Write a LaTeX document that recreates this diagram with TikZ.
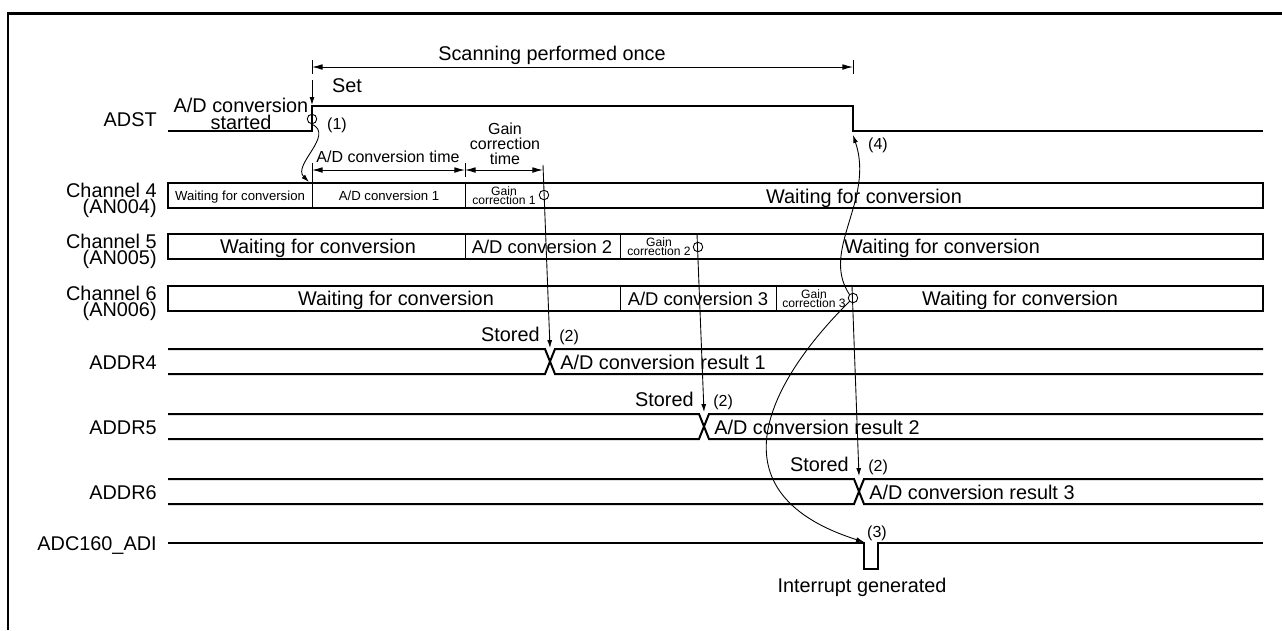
\documentclass[tikz,border=0pt]{standalone}
\usepackage{fontspec}
\setmainfont{Liberation Sans}
\usetikzlibrary{arrows.meta, positioning}
\newcommand\txtL{\fontsize{11.3}{9.4}\selectfont\lineskiplimit=-\maxdimen}
\newcommand\txtC{\fontsize{11.3}{9}\selectfont\lineskiplimit=-\maxdimen}
\newcommand\txtA{\fontsize{10.5}{9}\selectfont}
\newcommand\txtM{\fontsize{9.1}{8.5}\selectfont\lineskiplimit=-\maxdimen}
\newcommand\txtS{\fontsize{7.5}{8}\selectfont}
\newcommand\txtT{\fontsize{6.9}{4.8}\selectfont\lineskiplimit=-\maxdimen}

\begin{document}
\begin{tikzpicture}[x=0.02cm, y=-0.02cm,
    wave/.style={line width=1.15pt},
    bord/.style={line width=1.7pt},
    sep/.style={line width=0.5pt},
    fl/.style={-{Latex[length=4.5pt, width=2.8pt]}, line width=0.5pt},
    dim/.style={{Latex[length=6pt, width=3.2pt]}-{Latex[length=6pt, width=3.2pt]}, line width=0.5pt},
    ring/.style={draw, circle, line width=0.5pt, minimum size=5.4pt, inner sep=0pt},
    sname/.style={anchor=base east, align=right, font=\txtL, inner sep=0pt},
    txt/.style={anchor=base, inner sep=0pt},
    gain/.style={anchor=base, align=center, font=\txtT, inner sep=0pt}
]
    \useasboundingbox (0,0) rectangle (1282,630);
    \draw[bord] (8,630) -- (8,13) -- (1282,13);

    \coordinate (scL) at (312,67);
    \coordinate (scR) at (853,67);
    \coordinate (setT) at (312,80);
    \coordinate (rise) at (312,105);
    \coordinate (fall) at (853,135);
    \coordinate (adL) at (312,170);
    \coordinate (adM) at (465,170);
    \coordinate (gcR) at (543,170);
    \coordinate (tk1) at (543,165);
    \coordinate (tk2) at (697,234);
    \coordinate (tk3) at (852,286);
    \coordinate (ch4in) at (309,182);
    \coordinate (st4) at (550,348);
    \coordinate (st5) at (704,412);
    \coordinate (st6) at (859,476);
    \coordinate (irq) at (864,542);

    \node[txt, font=\txtL] (scan) at (552,60) {Scanning performed once};
    \draw[dim] (scL) -- (scR);
    \draw[sep] (312,60) -- (312,74);
    \draw[sep] (853,60) -- (853,74);

    \node[sname] (adst) at (157,126) {ADST};
    \node[txt, font=\txtL, align=center] (start) at (241,129) {A/D conversion\\started};
    \node[txt, font=\txtL] (set) at (347,92) {Set};
    \draw[wave] (168,131) -- (312,131) -- (312,106) -- (853,106) -- (853,131) -- (1263,131);
    \draw[fl] (setT) -- (rise);
    \node[ring] (r1) at (312,119) {};
    \node[txt, font=\txtM] (n1) at (337,129) {(1)};

    \node[txt, font=\txtM] (adtime) at (388,162) {A/D conversion time};
    \node[txt, font=\txtM, align=center] (gctime) at (505,164) {Gain\\correction\\time};
    \draw[dim] (adL) -- (adM);
    \draw[dim] (adM) -- (gcR);
    \draw[sep] (312,163) -- (312,183);
    \draw[sep] (465,163) -- (465,177);

    \foreach \y/\n in {183/4, 234/5, 286/6} {
        \draw[wave] (168,\y) rectangle (1263,\y+25);
        \node[sname, font=\txtC] (ch\n) at (157,\y+30) {Channel \n\\(AN00\n)};
    }
    \draw[sep] (312,183) -- (312,208);
    \draw[sep] (465,183) -- (465,208);
    \draw[sep] (465,234) -- (465,259);
    \draw[sep] (620,234) -- (620,259);
    \draw[sep] (620,286) -- (620,311);
    \draw[sep] (776,286) -- (776,311);

    \node[txt, font=\txtS] (w4a) at (240,200) {Waiting for conversion};
    \node[txt, font=\txtS] (ad1) at (389,200) {A/D conversion 1};
    \node[gain] (gc1) at (504,204) {Gain\\correction 1};
    \node[txt, font=\txtL] (w4b) at (864,203) {Waiting for conversion};

    \node[txt, font=\txtL] (w5a) at (318,253) {Waiting for conversion};
    \node[txt, font=\txtA] (ad2) at (542,253) {A/D conversion 2};
    \node[gain] (gc2) at (659,255) {Gain\\correction 2};
    \node[txt, font=\txtL] (w5b) at (942,253) {Waiting for conversion};

    \node[txt, font=\txtL] (w6a) at (396,305) {Waiting for conversion};
    \node[txt, font=\txtA] (ad3) at (698,305) {A/D conversion 3};
    \node[gain] (gc3) at (814,307) {Gain\\correction 3};
    \node[txt, font=\txtL] (w6b) at (1020,305) {Waiting for conversion};

    \node[ring] (g1) at (544,195) {};
    \node[ring] (g2) at (698,247) {};
    \node[ring] (g3) at (853,298) {};

    \foreach \y/\x/\n/\k in {349/550/4/1, 414/704/5/2, 479/859/6/3} {
        \draw[wave] (168,\y) -- (\x-5,\y) -- (\x+5,\y+25) -- (1263,\y+25);
        \draw[wave] (168,\y+25) -- (\x-5,\y+25) -- (\x+5,\y) -- (1263,\y);
        \node[sname] (addr\n) at (157,\y+20) {ADDR\n};
        \node[txt, font=\txtL, anchor=base east] (sto\n) at (\x-10,\y-8) {Stored};
        \node[txt, font=\txtM, anchor=base west] (two\n) at (\x+9,\y-8) {(2)};
        \node[txt, font=\txtL, anchor=base west] (res\n) at (\x+10,\y+20) {A/D conversion result \k};
    }

    \node[sname] (adi) at (157,550) {ADC160\_ADI};
    \draw[wave] (168,543) -- (864,543) -- (864,569) -- (878,569) -- (878,543) -- (1263,543);
    \node[txt, font=\txtM] (n3) at (877,537) {(3)};
    \node[txt, font=\txtL] (intr) at (862,592) {Interrupt generated};
    \node[txt, font=\txtM] (n4) at (878,149) {(4)};

    \draw[fl] (r1.south) .. controls (335,135) and (292,165) .. (ch4in);
    \draw[fl] (tk1) -- (st4);
    \draw[fl] (tk2) -- (st5);
    \draw[fl] (tk3) -- (st6);
    \draw[fl] (g3.225) .. controls (780,370) and (700,490) .. (irq);
    \draw[fl] (g3.135) .. controls (820,250) and (875,200) .. (fall);
\end{tikzpicture}
\end{document}
